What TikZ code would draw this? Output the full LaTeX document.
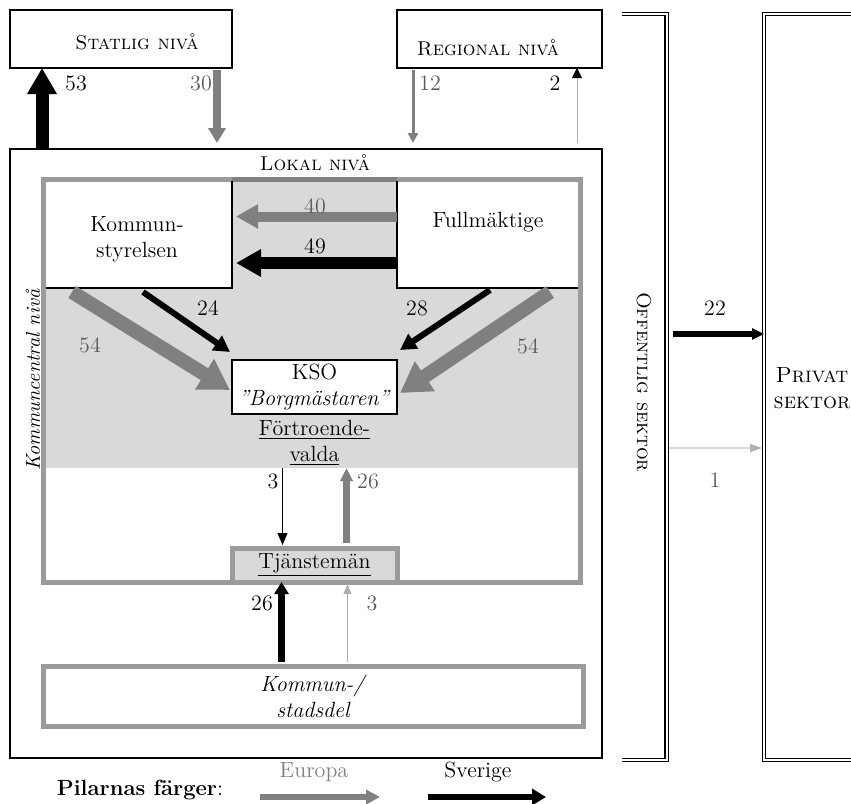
\documentclass[tikz,border=0pt]{standalone}
\usetikzlibrary{arrows.meta}
\definecolor{eugray}{RGB}{128,128,128}
\definecolor{numgray}{RGB}{90,90,90}
\definecolor{ramgray}{RGB}{155,155,155}
\definecolor{fillgray}{RGB}{217,217,217}
\definecolor{ljusgray}{RGB}{175,175,175}

\begin{document}
\begin{tikzpicture}[x=0.5pt, y=-0.5pt, font=\fontsize{11}{13}\selectfont,
    ruta/.style={inner sep=0pt, outer sep=0pt},
    niva/.style={font=\fontsize{10}{12}\selectfont},
    eu/.style={draw=eugray},
    se/.style={draw=black},
    pil/.style args={#1/#2/#3}{line width=#1, -{Triangle[length=#2, width=#3]}},
    num/.style={inner sep=0pt}]
\useasboundingbox (0,0) rectangle (851,803);

% nivåer
\node[ruta, draw, line width=1.2pt, minimum width=111pt, minimum height=29pt] (stat) at (121,39) {};
\node[niva] (stattxt) at (137,42) {\textsc{Statlig nivå}};
\node[ruta, draw, line width=1.2pt, minimum width=102.5pt, minimum height=29pt] (reg) at (499.5,39) {};
\node[niva] (regtxt) at (488,48) {\textsc{Regional nivå}};
\node[ruta, draw, line width=1.2pt, minimum width=296pt, minimum height=304.5pt] (lokal) at (306,453.5) {};
\node[niva] (lokaltxt) at (315,163) {\textsc{Lokal nivå}};

% kommuncentral nivå
\node[ruta, fill=white, minimum width=93pt, minimum height=53.5pt] (ks) at (139,234.5) {};
\node[ruta, fill=white, minimum width=90.5pt, minimum height=53.5pt] (fm) at (487.5,234.5) {};
\fill[fillgray] (ks.north east) rectangle (fm.south west);
\fill[fillgray] (ks.south west) rectangle ([yshift=-90pt]fm.south east);
\node[ruta, draw=ramgray, line width=2.5pt, minimum width=268.5pt, minimum height=201.5pt] (kc) at (312,381) {};
\draw[eugray, line width=2.5pt] (ks.north east |- kc.north) -- (fm.north west |- kc.north);
\draw[line width=1.2pt] (ks.south west) -- (ks.south east) -- (ks.north east);
\draw[line width=1.2pt] (fm.north west) -- (fm.south west) -- (fm.south east);
\node[align=center] (kstxt) at (137,239) {Kommun-\\styrelsen};
\node (fmtxt) at (488,222) {Fullmäktige};
\node[rotate=90, font=\fontsize{10}{12}\selectfont\itshape] (kcntxt) at (33,380) {Kommuncentral nivå};

\node[ruta, draw, line width=1.2pt, fill=white, minimum width=82.5pt, minimum height=27pt, align=center] (kso) at (314.5,387) {KSO\\\textit{"Borgmästaren"}};
\node[ruta, minimum height=25pt, align=center] (fv) at (314.5,443) {\underline{Förtroende-}\\\underline{valda}};
\node[ruta, draw=ramgray, line width=2.5pt, fill=fillgray, minimum width=82.5pt, minimum height=17pt] (tj) at (314.5,565) {\underline{Tjänstemän}};
\node[ruta, draw=ramgray, line width=2.5pt, minimum width=270pt, minimum height=30pt, align=center] (kom) at (313.5,696) {\textit{Kommun-/}\\\textit{stadsdel}};

% sektorer
\node[ruta, minimum width=22.25pt, minimum height=373pt] (off) at (644.25,387) {};
\draw[double, line width=0.7pt, double distance=1pt] (off.north west) -- (off.north east) -- (off.south east) -- (off.south west);
\node[niva, rotate=-90] (offtxt) at (644,382) {\textsc{Offentlig sektor}};
\node[ruta, minimum width=48pt, minimum height=373pt] (priv) at (812,387) {};
\draw[double, line width=0.7pt, double distance=1pt] (priv.north east) -- (priv.north west) -- (priv.south west) -- (priv.south east);
\node[align=center] (privtxt) at (812,388) {\textsc{Privat}\\\textsc{sektor}};

% pilar
\draw[se, pil=6.5pt/13pt/14pt] ([xshift=16pt]lokal.north west) -- ([xshift=16pt]stat.south west);
\draw[eu, pil=4pt/7.5pt/8.5pt] ([xshift=-7.5pt,yshift=-1pt]stat.south east) -- ([xshift=103.5pt,yshift=3pt]lokal.north west);
\draw[eu, pil=1.5pt/5pt/5pt] ([xshift=8pt,yshift=-1pt]reg.south west) -- ([xshift=201.5pt,yshift=3pt]lokal.north west);
\draw[ljusgray, line width=0.5pt, -{Triangle[length=5pt, width=5pt, color=black]}] ([xshift=-12.5pt,yshift=3pt]lokal.north east) -- ([xshift=-12.5pt]reg.south east);

\draw[eu, pil=5pt/11pt/11.5pt] ([yshift=9pt]fm.west) -- ([xshift=2pt,yshift=9pt]ks.east);
\draw[se, pil=6pt/12.5pt/13pt] ([yshift=-14.25pt]fm.west) -- ([xshift=2pt,yshift=-14.25pt]ks.east);

\draw[eu, pil=7pt/15pt/17pt] ([xshift=13pt,yshift=-2pt]ks.south west) -- ([xshift=-1pt,yshift=-1.5pt]kso.west);
\draw[se, pil=3pt/8pt/8.5pt] ([xshift=48.5pt,yshift=-2pt]ks.south west) -- ([xshift=-1pt,yshift=4pt]kso.north west);
\draw[se, pil=3pt/8pt/8.5pt] ([xshift=46.5pt,yshift=-1pt]fm.south west) -- ([xshift=1.5pt,yshift=5pt]kso.north east);
\draw[eu, pil=7pt/15pt/17pt] ([xshift=-14pt,yshift=-2pt]fm.south east) -- ([xshift=1.5pt,yshift=-3pt]kso.east);

\draw[se, pil=0.6pt/6pt/5pt] ([xshift=-16pt]fv.south) -- ([xshift=-16pt,yshift=1.5pt]tj.north);
\draw[eu, pil=3.5pt/6.5pt/6pt] ([xshift=16pt,yshift=2.5pt]tj.north) -- ([xshift=16pt]fv.south);
\draw[se, pil=3.5pt/6pt/7pt] ([xshift=-16pt,yshift=2pt]kom.north) -- ([xshift=-16.5pt]tj.south);
\draw[ljusgray, pil=0.5pt/5pt/4pt] ([xshift=17pt,yshift=2pt]kom.north) -- ([xshift=16.5pt,yshift=-1pt]tj.south);

\draw[se, pil=3.2pt/6pt/5.5pt] ([xshift=3pt,yshift=26.5pt]off.east) -- ([yshift=26.5pt]priv.west);
\draw[fillgray, line width=0.6pt, -{Triangle[length=6pt, width=4pt, color=ljusgray]}] ([xshift=1pt,yshift=-30.5pt]off.east) -- ([xshift=-1pt,yshift=-30.5pt]priv.west);

% siffror
\foreach \n/\x/\y/\t/\f in {n53/76/83/53/black, n30/201/83/30/numgray, n12/430/83/12/numgray, n2/555/83/2/black,
    n40/315/206/40/numgray, n49/315/246/49/black, n24/208/308/24/black, n54a/90/345/54/numgray,
    n28/417/308/28/black, n54b/528/346/54/numgray, n3a/273/481/3/black, n26a/368/481/26/numgray,
    n26b/262/603/26/black, n3b/372/603/3/numgray, n22/715/308/22/black, n1/715/480/1/numgray}
  \node[num, text=\f] (\n) at (\x,\y) {\t};

% pilarnas färger
\node (pf) at (140,790) {\textbf{Pilarnas färger}:};
\node[text=eugray] (eutxt) at (314,772) {Europa};
\node (setxt) at (478,772) {Sverige};
\coordinate (eu1) at (260,797);
\coordinate (eu2) at (380,797);
\coordinate (se1) at (428,797);
\coordinate (se2) at (546,797);
\draw[eu, pil=3pt/7pt/7pt] (eu1) -- (eu2);
\draw[se, pil=3pt/7pt/8pt] (se1) -- (se2);
\end{tikzpicture}
\end{document}
